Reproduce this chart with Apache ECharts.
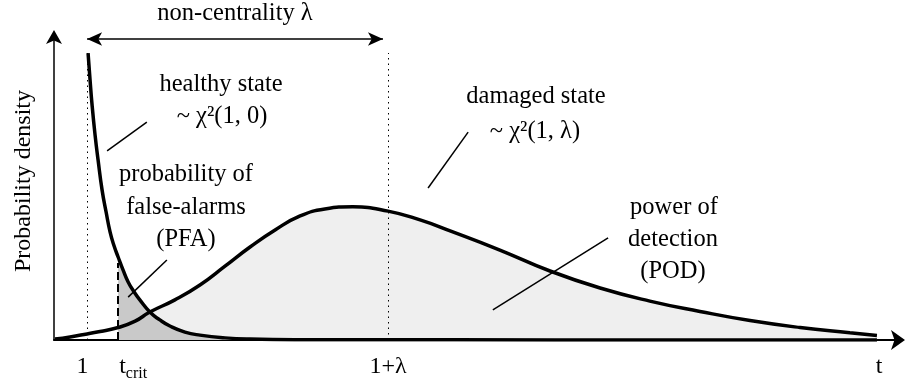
<!DOCTYPE html>
<html>
<head>
<meta charset="utf-8">
<script src="https://cdn.jsdelivr.net/npm/echarts@6/dist/echarts.min.js"></script>
<style>html,body{margin:0;padding:0;background:#fff}#c{width:909px;height:383px}</style>
</head>
<body>
<div id="c"></div>
<script>
// ---- data ----
const healthyX = [1.02, 1.08, 1.14, 1.23, 1.32, 1.44, 1.56, 1.68, 1.80, 1.92, 2.07, 2.22, 2.40, 2.57, 2.87, 3.17, 3.47, 3.92, 4.37, 5.12, 5.87, 7.37, 12.0, 18.0, 24.64];
const healthyY = [0.944, 0.855, 0.773, 0.674, 0.592, 0.493, 0.421, 0.355, 0.309, 0.273, 0.230, 0.191, 0.158, 0.132, 0.092, 0.066, 0.046, 0.026, 0.016, 0.007, 0.003, 0.001, 0.0005, 0.0003, 0.0002];
const damagedX = [0.03, 0.48, 0.99, 1.38, 1.92, 2.43, 2.87, 3.62, 4.37, 5.12, 5.87, 6.62, 7.37, 8.11, 8.95, 10.0, 10.96, 11.86, 13.35, 14.85, 16.35, 17.84, 19.34, 20.84, 22.34, 23.83, 24.64];
const damagedY = [0.003, 0.010, 0.020, 0.028, 0.041, 0.062, 0.092, 0.132, 0.181, 0.243, 0.306, 0.362, 0.408, 0.431, 0.438, 0.424, 0.395, 0.359, 0.296, 0.227, 0.171, 0.128, 0.094, 0.064, 0.041, 0.024, 0.015];
const tCrit = 1.92;
const lambda = 9;
const tickValues = [1, tCrit, 1 + lambda, 24.7];
const tickLabels = ['1', 't_crit', '1+λ', 't'];

const FONT = 'Liberation Serif';
const zip = (xs, ys) => xs.map((x, i) => [x, ys[i]]);
const healthy = zip(healthyX, healthyY);
const damaged = zip(damagedX, damagedY);
const pod = damaged.filter(p => p[0] >= tCrit);
const pfa = healthy.filter(p => p[0] >= tCrit);

const chart = echarts.init(document.getElementById('c'), null, {renderer: 'canvas'});

function seg(a, b, style, sym) {
  const s = sym || 'none';
  return [{coord: a, lineStyle: style, symbol: s, symbolSize: [10, 15]}, {coord: b, symbol: s, symbolSize: [10, 15]}];
}
const thin = {color: '#000', width: 1.5, type: 'solid'};

const txt = (x, y, t, size) => ({
  type: 'text', x: x, y: y, silent: true,
  style: {text: t, fill: '#000', font: (size || 24.5) + 'px "' + FONT + '"', align: 'center', verticalAlign: 'middle'}
});

const SMOOTH = 0.5;

chart.setOption({
  animation: false,
  backgroundColor: '#fff',
  grid: {left: 54, right: 10, top: 36, bottom: 43, containLabel: false, outerBoundsMode: 'none'},
  xAxis: {
    type: 'value', min: 0, max: 25.3,
    axisLine: {show: true, onZero: false, symbol: ['none', 'arrow'], symbolSize: [15, 14], symbolOffset: [0, 6], lineStyle: {color: '#000', width: 2}},
    axisTick: {show: false},
    splitLine: {show: false},
    axisLabel: {
      show: true, customValues: tickValues, margin: 15, color: '#000', fontFamily: FONT, fontSize: 24,
      formatter: function (v) {
        const i = tickValues.findIndex(t => Math.abs(t - v) < 1e-6);
        if (i < 0) return '';
        const l = tickLabels[i];
        if (l.indexOf('_') > 0) { const p = l.split('_'); return '{pt|' + p[0] + '}{s|' + p[1] + '}'; }
        if (i === 0) return '{one|' + l + '}';
        return l;
      },
      rich: {
        pt: {fontFamily: FONT, fontSize: 24, color: '#000', padding: [0, 0, 0, 30], lineHeight: 27, verticalAlign: 'top'},
        s: {fontFamily: FONT, fontSize: 16, color: '#000', lineHeight: 16, verticalAlign: 'bottom'},
        one: {fontFamily: FONT, fontSize: 24, color: '#000', padding: [0, 10, 0, 0]}
      }
    }
  },
  yAxis: {
    type: 'value', min: 0, max: 1,
    name: 'Probability density', nameLocation: 'middle', nameRotate: 90, nameGap: 18,
    nameTextStyle: {fontFamily: FONT, fontSize: 24, color: '#000', padding: [0, 0, 0, 14]},
    axisLine: {show: true, symbol: ['none', 'arrow'], symbolSize: [12, 14], symbolOffset: [0, 6], lineStyle: {color: '#000', width: 1.5}},
    axisTick: {show: false}, axisLabel: {show: false}, splitLine: {show: false}
  },
  series: [
    {type: 'line', data: pod, symbol: 'none', smooth: SMOOTH, silent: true, z: 1,
     lineStyle: {width: 0}, areaStyle: {color: '#efefef', opacity: 1}},
    {type: 'line', data: pfa, symbol: 'none', smooth: SMOOTH, silent: true, z: 2,
     lineStyle: {width: 0}, areaStyle: {color: '#c9c9c9', opacity: 1}},
    {type: 'line', data: damaged, symbol: 'none', smooth: SMOOTH, silent: true, z: 5,
     lineStyle: {color: '#000', width: 3.5},
     markLine: {
       silent: true, animation: false, label: {show: false}, symbol: 'none',
       data: [
         seg([1, 0], [1, 0.944], {color: '#000', width: 1, type: [1.5, 4]}),
         seg([1 + lambda, 0], [1 + lambda, 0.944], {color: '#000', width: 1, type: [1.5, 4]}),
         seg([tCrit, 0], [tCrit, 0.253], {color: '#000', width: 2, type: [8, 4]}),
         seg([0.99, 0.99], [9.85, 0.99], thin, 'arrow'),
         seg([2.78, 0.717], [1.59, 0.622], thin),
         seg([3.38, 0.263], [2.22, 0.141], thin),
         seg([12.40, 0.684], [11.20, 0.500], thin),
         seg([16.59, 0.336], [13.14, 0.099], thin)
       ]
     }},
    {type: 'line', data: healthy, symbol: 'none', smooth: SMOOTH, silent: true, z: 6,
     lineStyle: {color: '#000', width: 3.5}}
  ],
  graphic: [
    txt(235, 14, 'non-centrality λ'),
    txt(221, 85, 'healthy state'),
    txt(222, 117, '~ χ²(1, 0)'),
    txt(186, 175, 'probability of'),
    txt(186, 208, 'false-alarms'),
    txt(186, 240, '(PFA)'),
    txt(536, 97, 'damaged state'),
    txt(535, 132, '~ χ²(1, λ)'),
    txt(674, 208, 'power of'),
    txt(673, 240, 'detection'),
    txt(673, 272, '(POD)')
  ]
});
</script>
</body>
</html>
